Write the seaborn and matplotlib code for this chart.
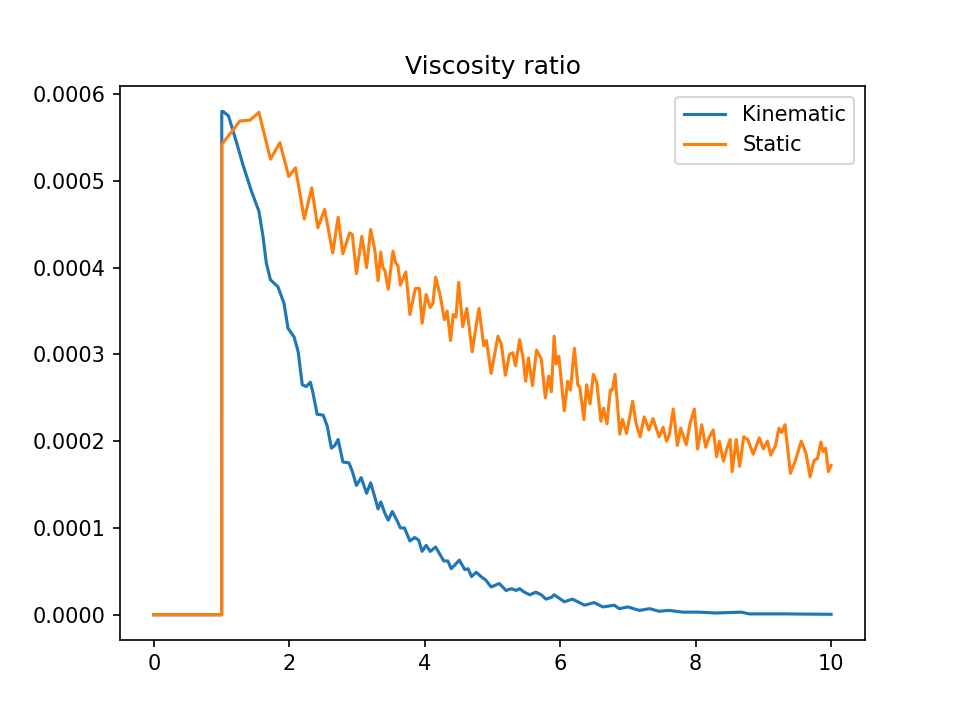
import matplotlib
matplotlib.use('Agg')
import matplotlib.pyplot as plt
import seaborn as sns
import pandas as pd

# Kinematic viscosity ratio (values in units of 1e-4)
kin_t = [0, 1.0, 1.001, 1.02, 1.10, 1.22, 1.32, 1.44, 1.55, 1.61,
         1.66, 1.72, 1.83, 1.92, 1.98, 2.07, 2.13, 2.19, 2.25, 2.31,
         2.35, 2.41, 2.50, 2.56, 2.62, 2.67, 2.72, 2.79, 2.88, 2.93,
         2.99, 3.06, 3.14, 3.20, 3.26, 3.31, 3.35, 3.41, 3.46, 3.52,
         3.58, 3.64, 3.70, 3.78, 3.85, 3.91, 3.96, 4.02, 4.08, 4.16,
         4.22, 4.28, 4.34, 4.39, 4.44, 4.51, 4.59, 4.64, 4.69, 4.76,
         4.83, 4.90, 4.98, 5.10, 5.20, 5.28, 5.35, 5.40, 5.47, 5.55,
         5.64, 5.72, 5.79, 5.87, 5.91, 6.06, 6.18, 6.36, 6.50, 6.63,
         6.80, 6.87, 7.00, 7.17, 7.32, 7.46, 7.61, 7.81, 8.05, 8.30,
         8.67, 8.79, 9.28, 10.0]
kin_v = [0, 0, 5.80, 5.80, 5.75, 5.44, 5.17, 4.88, 4.65, 4.36,
         4.05, 3.86, 3.78, 3.59, 3.30, 3.20, 3.03, 2.65, 2.63, 2.68,
         2.55, 2.31, 2.30, 2.17, 1.92, 1.95, 2.02, 1.76, 1.75, 1.65,
         1.49, 1.58, 1.40, 1.52, 1.36, 1.22, 1.30, 1.17, 1.09, 1.19,
         1.10, 1.00, 1.00, 0.85, 0.89, 0.86, 0.73, 0.80, 0.73, 0.78,
         0.70, 0.62, 0.62, 0.53, 0.57, 0.63, 0.52, 0.53, 0.44, 0.49,
         0.44, 0.40, 0.32, 0.36, 0.28, 0.30, 0.28, 0.30, 0.26, 0.23,
         0.26, 0.23, 0.18, 0.20, 0.23, 0.15, 0.18, 0.11, 0.14, 0.09,
         0.11, 0.07, 0.09, 0.05, 0.07, 0.04, 0.05, 0.03, 0.03, 0.02,
         0.03, 0.01, 0.01, 0.005]

# Static viscosity ratio (values in units of 1e-4)
st_t = [0, 1.0, 1.001, 1.27, 1.42, 1.55, 1.72, 1.86, 1.99, 2.09,
        2.22, 2.33, 2.42, 2.52, 2.64, 2.72, 2.79, 2.89, 2.93, 2.99,
        3.07, 3.14, 3.20, 3.26, 3.31, 3.35, 3.38, 3.41, 3.46, 3.53,
        3.57, 3.60, 3.64, 3.72, 3.78, 3.86, 3.92, 3.96, 4.02, 4.08,
        4.12, 4.16, 4.23, 4.29, 4.33, 4.38, 4.42, 4.46, 4.50, 4.56,
        4.62, 4.70, 4.76, 4.80, 4.85, 4.87, 4.91, 4.98, 5.08, 5.13,
        5.19, 5.25, 5.30, 5.34, 5.40, 5.45, 5.49, 5.53, 5.59, 5.65,
        5.72, 5.78, 5.83, 5.87, 5.91, 5.94, 5.98, 6.06, 6.11, 6.15,
        6.21, 6.26, 6.29, 6.35, 6.39, 6.44, 6.49, 6.54, 6.60, 6.64,
        6.69, 6.74, 6.77, 6.81, 6.88, 6.92, 6.98, 7.07, 7.12, 7.18,
        7.24, 7.31, 7.37, 7.46, 7.52, 7.57, 7.61, 7.67, 7.73, 7.78,
        7.86, 7.92, 7.98, 8.03, 8.09, 8.15, 8.19, 8.26, 8.31, 8.35,
        8.41, 8.46, 8.51, 8.54, 8.60, 8.65, 8.71, 8.77, 8.85, 8.94,
        9.00, 9.06, 9.11, 9.18, 9.23, 9.27, 9.32, 9.40, 9.47, 9.56,
        9.63, 9.69, 9.75, 9.80, 9.85, 9.88, 9.92, 9.96, 10.0]
st_v = [0, 0, 5.42, 5.69, 5.70, 5.79, 5.25, 5.44, 5.05, 5.15,
        4.56, 4.92, 4.46, 4.67, 4.17, 4.58, 4.16, 4.40, 4.38, 3.93,
        4.36, 4.00, 4.44, 4.21, 3.85, 4.18, 4.00, 3.97, 3.75, 4.19,
        4.05, 4.03, 3.80, 3.95, 3.46, 3.76, 3.76, 3.36, 3.69, 3.54,
        3.59, 3.89, 3.67, 3.40, 3.50, 3.16, 3.46, 3.43, 3.83, 3.32,
        3.53, 3.03, 3.34, 3.53, 3.23, 3.10, 3.16, 2.78, 3.21, 3.12,
        2.76, 3.00, 3.02, 2.87, 3.17, 2.96, 2.69, 2.96, 2.64, 3.05,
        2.95, 2.50, 2.75, 2.57, 3.21, 2.89, 2.98, 2.35, 2.69, 2.59,
        3.07, 2.65, 2.62, 2.25, 2.65, 2.43, 2.77, 2.68, 2.23, 2.38,
        2.20, 2.59, 2.59, 2.77, 2.08, 2.25, 2.09, 2.46, 2.21, 2.05,
        2.28, 2.13, 2.26, 2.05, 2.16, 2.00, 2.07, 2.37, 1.95, 2.15,
        1.96, 2.21, 2.37, 1.91, 2.19, 1.93, 2.03, 2.13, 1.82, 2.00,
        1.77, 1.91, 2.02, 1.65, 2.02, 1.71, 2.05, 2.02, 1.85, 2.04,
        1.91, 2.00, 1.84, 1.95, 2.15, 2.10, 2.19, 1.63, 1.77, 2.00,
        1.86, 1.59, 1.78, 1.80, 1.99, 1.88, 1.92, 1.65, 1.72]

scale = 1e-4

kin = pd.DataFrame({'t': kin_t, 'ratio': [v * scale for v in kin_v]})
stat = pd.DataFrame({'t': st_t, 'ratio': [v * scale for v in st_v]})

fig, ax = plt.subplots(figsize=(9.61 / 1.5, 7.19 / 1.5), dpi=150)
sns.lineplot(data=kin, x='t', y='ratio', ax=ax, color='#1f77b4',
             label='Kinematic', estimator=None, sort=False, linewidth=1.5)
sns.lineplot(data=stat, x='t', y='ratio', ax=ax, color='#ff7f0e',
             label='Static', estimator=None, sort=False, linewidth=1.5)

ax.set_title('Viscosity ratio')
ax.set_xlabel('')
ax.set_ylabel('')
ax.legend(loc='upper right')

fig.savefig('out.png', dpi=150)
